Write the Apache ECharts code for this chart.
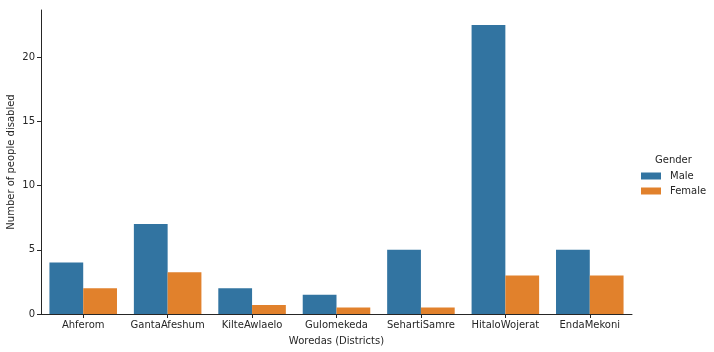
<!DOCTYPE html>
<html><head><meta charset="utf-8">
<script src="https://cdn.jsdelivr.net/npm/echarts@6/dist/echarts.min.js"></script>
<style>html,body{margin:0;padding:0;background:#fff}#c{width:714px;height:352px}</style>
</head><body><div id="c"></div>
<script>
const categories = ["Ahferom","GantaAfeshum","KilteAwlaelo","Gulomekeda","SehartiSamre","HitaloWojerat","EndaMekoni"];
const maleValues = [4, 7, 2, 1.5, 5, 22.5, 5];
const femaleValues = [2, 3.25, 0.7, 0.5, 0.5, 3, 3];
const yTicks = [0, 5, 10, 15, 20];
const font = "DejaVu Sans";
const chart = echarts.init(document.getElementById('c'), null, {renderer:'canvas'});
chart.setOption({
  animation:false,
  textStyle:{fontFamily:font},
  grid:{left:41,right:82,top:10,bottom:38,containLabel:false,outerBoundsMode:'none'},
  legend:{orient:'vertical',left:636,top:166,itemWidth:20,itemHeight:7,itemGap:5,icon:'rect',
    textStyle:{fontFamily:font,fontSize:10,color:'#262626',padding:[2,0,1,4]},data:['Male','Female']},
  graphic:[{type:'text',left:655,top:155,style:{text:'Gender',font:'10px "DejaVu Sans"',fill:'#262626'}}],
  xAxis:{type:'category',data:categories,
    name:'Woredas (Districts)',nameLocation:'middle',nameGap:22,nameMoveOverlap:false,
    nameTextStyle:{fontFamily:font,fontSize:10,color:'#262626'},
    axisLine:{lineStyle:{color:'#262626',width:1}},
    axisTick:{show:true,alignWithLabel:true,interval:0,length:4,lineStyle:{color:'#262626'}},
    axisLabel:{interval:0,fontFamily:font,fontSize:10,color:'#262626',margin:6}},
  yAxis:{type:'value',min:0,max:23.66,
    name:'Number of people disabled',nameLocation:'middle',nameGap:25,nameMoveOverlap:false,
    nameTextStyle:{fontFamily:font,fontSize:10,color:'#262626'},
    splitLine:{show:false},
    axisLine:{show:true,lineStyle:{color:'#262626',width:1}},
    axisTick:{show:true,length:4,customValues:yTicks,lineStyle:{color:'#262626'}},
    axisLabel:{fontFamily:font,fontSize:10,color:'#262626',margin:6,customValues:yTicks}},
  series:[
    {name:'Male',type:'bar',data:maleValues,barGap:'0%',barCategoryGap:'20%',itemStyle:{color:'#3274a1'}},
    {name:'Female',type:'bar',data:femaleValues,barGap:'0%',barCategoryGap:'20%',itemStyle:{color:'#e1812c'}}
  ]
});
</script></body></html>
